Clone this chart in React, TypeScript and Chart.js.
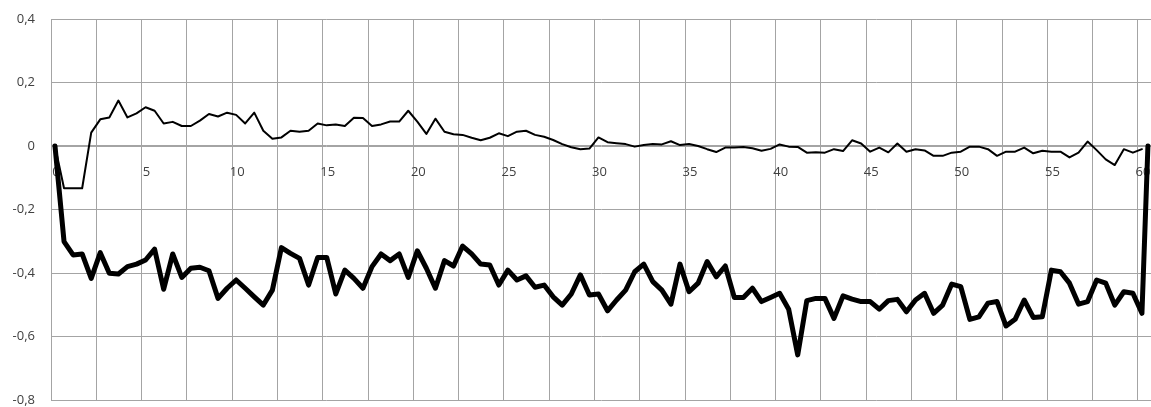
import React, { useEffect, useRef } from "react";
import { Chart, registerables } from "chart.js";

Chart.register(...registerables);

// x position of the first sample and spacing between samples
const T_START = 0.22;
const T_STEP = 0.5;
const T_END_THICK = 60.55;

const THIN_SERIES = [
  0, -0.133, -0.133, -0.133, 0.042, 0.084, 0.09, 0.143, 0.09, 0.103,
  0.122, 0.111, 0.071, 0.076, 0.063, 0.063, 0.08, 0.101, 0.093, 0.105,
  0.098, 0.071, 0.105, 0.048, 0.023, 0.027, 0.048, 0.045, 0.048, 0.071,
  0.065, 0.068, 0.063, 0.089, 0.088, 0.063, 0.068, 0.077, 0.077, 0.111,
  0.077, 0.038, 0.086, 0.045, 0.037, 0.035, 0.026, 0.018, 0.026, 0.04,
  0.031, 0.045, 0.048, 0.035, 0.029, 0.019, 0.006, -0.004, -0.01, -0.008,
  0.027, 0.012, 0.009, 0.006, -0.002, 0.003, 0.006, 0.005, 0.015, 0.003,
  0.006, 0.0, -0.01, -0.019, -0.005, -0.005, -0.003, -0.007, -0.015, -0.009,
  0.005, -0.002, -0.003, -0.021, -0.02, -0.021, -0.01, -0.016, 0.018, 0.008,
  -0.018, -0.005, -0.02, 0.008, -0.018, -0.01, -0.014, -0.031, -0.031, -0.021,
  -0.018, -0.002, -0.002, -0.01, -0.031, -0.018, -0.018, -0.005, -0.023, -0.015,
  -0.018, -0.018, -0.036, -0.021, 0.014, -0.013, -0.042, -0.06, -0.01, -0.021,
  -0.01,
];

const THICK_SERIES = [
  0, -0.301, -0.343, -0.34, -0.417, -0.336, -0.401, -0.403, -0.38, -0.372,
  -0.359, -0.325, -0.451, -0.34, -0.414, -0.385, -0.382, -0.393, -0.48, -0.448,
  -0.422, -0.448, -0.475, -0.501, -0.454, -0.32, -0.338, -0.354, -0.438, -0.351,
  -0.351, -0.466, -0.391, -0.417, -0.448, -0.38, -0.34, -0.361, -0.34, -0.414,
  -0.33, -0.385, -0.448, -0.361, -0.378, -0.315, -0.34, -0.372, -0.375, -0.438,
  -0.391, -0.422, -0.409, -0.445, -0.438, -0.475, -0.501, -0.466, -0.406, -0.469,
  -0.466, -0.519, -0.485, -0.454, -0.396, -0.372, -0.427, -0.454, -0.498, -0.372,
  -0.459, -0.432, -0.364, -0.412, -0.378, -0.477, -0.477, -0.448, -0.49, -0.477,
  -0.464, -0.514, -0.658, -0.487, -0.48, -0.48, -0.543, -0.472, -0.482, -0.49,
  -0.49, -0.514, -0.487, -0.483, -0.522, -0.485, -0.464, -0.527, -0.501, -0.435,
  -0.443, -0.546, -0.538, -0.495, -0.49, -0.567, -0.546, -0.485, -0.54, -0.538,
  -0.391, -0.396, -0.432, -0.498, -0.49, -0.422, -0.432, -0.501, -0.459, -0.464,
  -0.527,
];
const THICK_END_VALUE = 0;

const X_MIN = 0;
const X_LAST_TICK = 60;
const X_MAX = 60.72;
const X_GRID_STEP = 2.5;
const X_LABEL_STEP = 5;
const Y_MIN = -0.8;
const Y_MAX = 0.4;
const Y_STEP = 0.2;

const GRID = "#a4a4a4";
const TEXT = "#404040";
const FONT_FAMILY = "'Open Sans', 'DejaVu Sans', sans-serif";

export default function App() {
  const ref = useRef<HTMLCanvasElement | null>(null);

  useEffect(() => {
    const canvas = ref.current;
    if (!canvas) return;
    const times = THIN_SERIES.map((_, i) => +(T_START + T_STEP * i).toFixed(2));
    const thin = THIN_SERIES.map((v, i) => ({ x: times[i], y: v }));
    const thick = THICK_SERIES.map((v, i) => ({ x: times[i], y: v }));
    thick.push({ x: T_END_THICK, y: THICK_END_VALUE });

    const chart = new Chart(canvas, {
      type: "line",
      data: {
        datasets: [
          {
            data: thick,
            borderColor: "#000",
            borderWidth: 5,
            pointRadius: 0,
            tension: 0,
            clip: false,
            borderJoinStyle: "round",
            borderCapStyle: "round",
          },
          {
            data: thin,
            borderColor: "#000",
            borderWidth: 2,
            pointRadius: 0,
            tension: 0,
            clip: false,
            borderJoinStyle: "round",
            borderCapStyle: "round",
          },
        ],
      },
      options: {
        animation: false,
        responsive: false,
        maintainAspectRatio: false,
        layout: { padding: { top: 19, right: 0, bottom: 7, left: 0 } },
        plugins: { legend: { display: false }, tooltip: { enabled: false } },
        scales: {
          x: {
            type: "linear",
            min: X_MIN,
            max: X_MAX,
            position: { y: 0 } as any,
            afterFit: (s: any) => {
              s.height = 0;
            },
            afterBuildTicks: (s: any) => {
              s.ticks = s.ticks.filter((t: any) => t.value <= X_LAST_TICK);
            },
            grid: {
              color: GRID,
              drawTicks: true,
              tickLength: 16,
              tickColor: "rgba(0,0,0,0)",
              lineWidth: 1,
            },
            border: { color: GRID },
            ticks: {
              stepSize: X_GRID_STEP,
              includeBounds: false,
              autoSkip: false,
              maxRotation: 0,
              padding: 4,
              labelOffset: 5,
              color: TEXT,
              font: { family: FONT_FAMILY, size: 13, lineHeight: 1 },
              callback: (v: any) => (Number(v) % X_LABEL_STEP === 0 ? String(v) : ""),
            },
          },
          y: {
            type: "linear",
            min: Y_MIN,
            max: Y_MAX,
            afterFit: (s: any) => {
              s.width = 51;
            },
            grid: {
              color: GRID,
              drawTicks: true,
              tickLength: 16,
              tickColor: "rgba(0,0,0,0)",
              lineWidth: 1,
            },
            border: { color: GRID },
            ticks: {
              stepSize: Y_STEP,
              padding: 0,
              color: TEXT,
              font: { family: FONT_FAMILY, size: 13, lineHeight: 1 },
              callback: (v: any) => {
                const n = Math.round(Number(v) * 10) / 10;
                return n === 0 ? "0" : n.toFixed(1).replace(".", ",");
              },
            },
          },
        },
      },
    });
    return () => chart.destroy();
  }, []);

  return (
    <div style={{ position: "fixed", left: 0, top: 0, width: 1151, height: 407, background: "#fff" }}>
      <canvas ref={ref} width={1151} height={407} style={{ display: "block" }} />
    </div>
  );
}
